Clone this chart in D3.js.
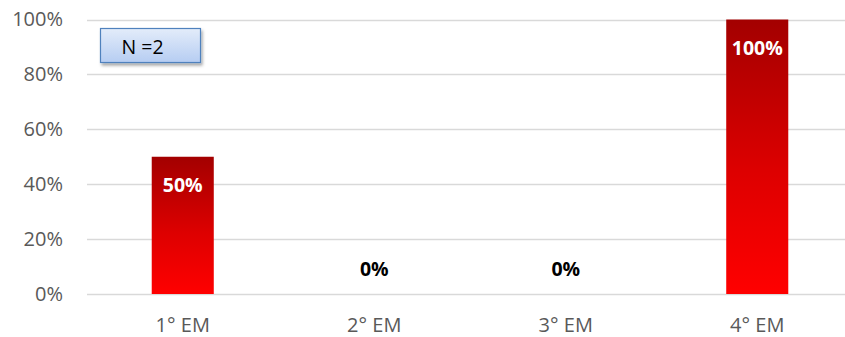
<!DOCTYPE html>
<html>
<head>
<meta charset="utf-8">
<script src="https://cdn.jsdelivr.net/npm/d3@7"></script>
<style>
  html, body { margin: 0; padding: 0; background: #fff; }
  svg { display: block; font-family: "Open Sans", sans-serif; }
</style>
</head>
<body>
<svg id="chart" width="845" height="337"></svg>
<script>
// Share of respondents by school year
const categories = ["1° EM", "2° EM", "3° EM", "4° EM"];
const values = [0.5, 0, 0, 1];
const yTicks = [0, 0.2, 0.4, 0.6, 0.8, 1];
const sampleNote = "N =2";

const width = 845, height = 337;
const margin = { top: 19.5, right: 0, bottom: 43, left: 87 };

const svg = d3.select("#chart");
const defs = svg.append("defs");

const grad = defs.append("linearGradient")
  .attr("id", "barFill").attr("x1", 0).attr("y1", 0).attr("x2", 0).attr("y2", 1);
grad.append("stop").attr("offset", "0%").attr("stop-color", "#a30000");
grad.append("stop").attr("offset", "55%").attr("stop-color", "#dd0000");
grad.append("stop").attr("offset", "100%").attr("stop-color", "#ff0000");

const boxGrad = defs.append("linearGradient")
  .attr("id", "boxFill").attr("x1", 0).attr("y1", 0).attr("x2", 0).attr("y2", 1);
boxGrad.append("stop").attr("offset", "0%").attr("stop-color", "#e3ecfa");
boxGrad.append("stop").attr("offset", "100%").attr("stop-color", "#b6cdf2");

const shadow = defs.append("filter").attr("id", "boxShadow")
  .attr("x", "-10%").attr("y", "-10%").attr("width", "130%").attr("height", "150%");
shadow.append("feDropShadow").attr("dx", 1.5).attr("dy", 2.5)
  .attr("stdDeviation", 1.5).attr("flood-color", "#000").attr("flood-opacity", 0.35);

const x = d3.scaleBand()
  .domain(categories)
  .range([margin.left, 853])
  .paddingInner(0.676)
  .paddingOuter(0.338);

const y = d3.scaleLinear()
  .domain([0, 1])
  .range([height - margin.bottom, margin.top]);

// horizontal gridlines
svg.append("g")
  .selectAll("line")
  .data(yTicks)
  .join("line")
  .attr("x1", margin.left).attr("x2", width)
  .attr("y1", d => Math.round(y(d)) + 0.5).attr("y2", d => Math.round(y(d)) + 0.5)
  .attr("stroke", "#d9d9d9").attr("stroke-width", 1.5);

// y axis labels
const yAxis = svg.append("g")
  .attr("transform", `translate(${margin.left},0)`)
  .call(d3.axisLeft(y).tickValues(yTicks).tickFormat(d3.format(".0%")).tickSize(0).tickPadding(24));
yAxis.select(".domain").remove();
yAxis.selectAll("text")
  .attr("fill", "#595959").attr("font-size", 20).attr("font-family", "Open Sans, sans-serif");

// x axis labels
const xAxis = svg.append("g")
  .attr("transform", `translate(0,${height - margin.bottom})`)
  .call(d3.axisBottom(x).tickSize(0).tickPadding(24));
xAxis.select(".domain").remove();
xAxis.selectAll("text")
  .attr("fill", "#595959").attr("font-size", 20).attr("font-family", "Open Sans, sans-serif");

// bars
svg.append("g")
  .selectAll("rect")
  .data(values)
  .join("rect")
  .attr("x", (d, i) => x(categories[i]))
  .attr("width", x.bandwidth())
  .attr("y", d => y(d))
  .attr("height", d => y(0) - y(d))
  .attr("fill", "url(#barFill)");

// value labels
svg.append("g")
  .selectAll("text")
  .data(values)
  .join("text")
  .attr("x", (d, i) => x(categories[i]) + x.bandwidth() / 2)
  .attr("y", d => d > 0 ? y(d) + 35 : y(0) - 18)
  .attr("text-anchor", "middle")
  .attr("font-size", 19.5)
  .attr("font-weight", "bold")
  .attr("fill", d => d > 0 ? "#ffffff" : "#000000")
  .text(d => d3.format(".0%")(d));

// sample size note
const note = svg.append("g").attr("transform", "translate(100.5,28.5)");
note.append("rect")
  .attr("width", 100).attr("height", 34)
  .attr("fill", "url(#boxFill)")
  .attr("stroke", "#4f81bd").attr("stroke-width", 1.2)
  .attr("filter", "url(#boxShadow)");
note.append("text")
  .attr("x", 21).attr("y", 25)
  .attr("font-size", 19.5).attr("fill", "#000")
  .text(sampleNote);
</script>
</body>
</html>
